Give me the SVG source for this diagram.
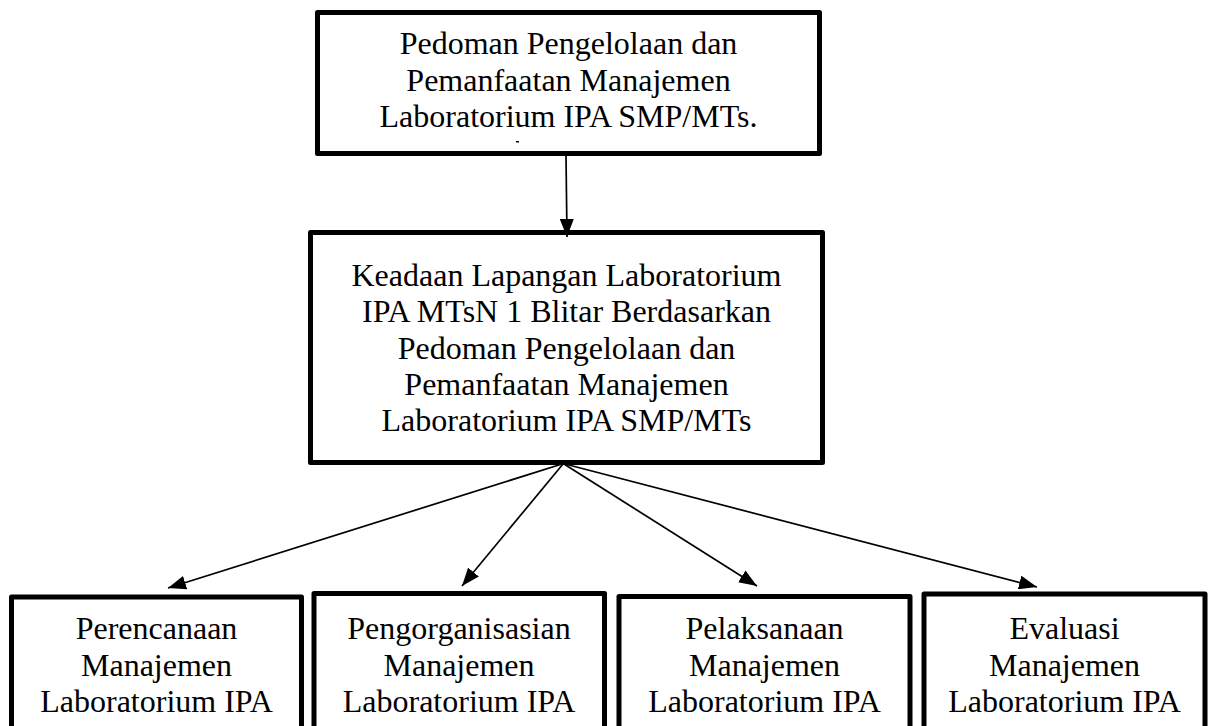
<svg xmlns="http://www.w3.org/2000/svg" width="1213" height="726" viewBox="0 0 1213 726">
<style>
.box{fill:#fff;stroke:#000;stroke-width:5;stroke-linejoin:round}
.t{font-family:"Liberation Serif","Times New Roman",serif;font-size:32px;fill:#000;text-anchor:middle}
.c{stroke:#000;stroke-width:1.7;fill:none}
</style>
<defs>
<marker id="ah" markerUnits="userSpaceOnUse" markerWidth="19" markerHeight="14" refX="18" refY="7" orient="auto">
<path d="M0,0 L18,7 L0,14 Z" fill="#000"/>
</marker>
</defs>
<rect width="1213" height="726" fill="#fff"/>
<g id="top">
<rect class="box" x="317.5" y="12.5" width="502" height="141"/>
<text class="t" x="568.5" y="54">Pedoman Pengelolaan dan</text>
<text class="t" x="568.5" y="90.5">Pemanfaatan Manajemen</text>
<text class="t" x="568.5" y="127">Laboratorium IPA SMP/MTs.</text>
<rect x="516" y="141" width="3" height="1.5" fill="#000"/>
</g>
<g id="middle">
<rect class="box" x="310.5" y="232.5" width="512" height="230"/>
<text class="t" x="566.5" y="286">Keadaan Lapangan Laboratorium</text>
<text class="t" x="566.5" y="322">IPA MTsN 1 Blitar Berdasarkan</text>
<text class="t" x="566.5" y="358.5">Pedoman Pengelolaan dan</text>
<text class="t" x="566.5" y="395">Pemanfaatan Manajemen</text>
<text class="t" x="566.5" y="431">Laboratorium IPA SMP/MTs</text>
</g>
<g id="perencanaan">
<rect class="box" x="11.5" y="597" width="290" height="150"/>
<text class="t" x="156.5" y="639">Perencanaan</text>
<text class="t" x="156.5" y="676">Manajemen</text>
<text class="t" x="156.5" y="712">Laboratorium IPA</text>
</g>
<g id="pengorganisasian">
<rect class="box" x="314" y="593.5" width="290.5" height="150"/>
<text class="t" x="459" y="639">Pengorganisasian</text>
<text class="t" x="459" y="676">Manajemen</text>
<text class="t" x="459" y="712">Laboratorium IPA</text>
</g>
<g id="pelaksanaan">
<rect class="box" x="619" y="596.5" width="291" height="150"/>
<text class="t" x="764.5" y="639">Pelaksanaan</text>
<text class="t" x="764.5" y="676">Manajemen</text>
<text class="t" x="764.5" y="712">Laboratorium IPA</text>
</g>
<g id="evaluasi">
<rect class="box" x="924" y="594" width="281" height="150"/>
<text class="t" x="1064.5" y="639">Evaluasi</text>
<text class="t" x="1064.5" y="676">Manajemen</text>
<text class="t" x="1064.5" y="712">Laboratorium IPA</text>
</g>
<g id="connectors">
<line class="c" x1="566" y1="156" x2="567" y2="237" marker-end="url(#ah)"/>
<line class="c" x1="562" y1="464" x2="168" y2="588" marker-end="url(#ah)"/>
<line class="c" x1="563" y1="464" x2="462" y2="586" marker-end="url(#ah)"/>
<line class="c" x1="564" y1="464" x2="757" y2="586" marker-end="url(#ah)"/>
<line class="c" x1="565" y1="464" x2="1037" y2="587" marker-end="url(#ah)"/>
</g>
</svg>
